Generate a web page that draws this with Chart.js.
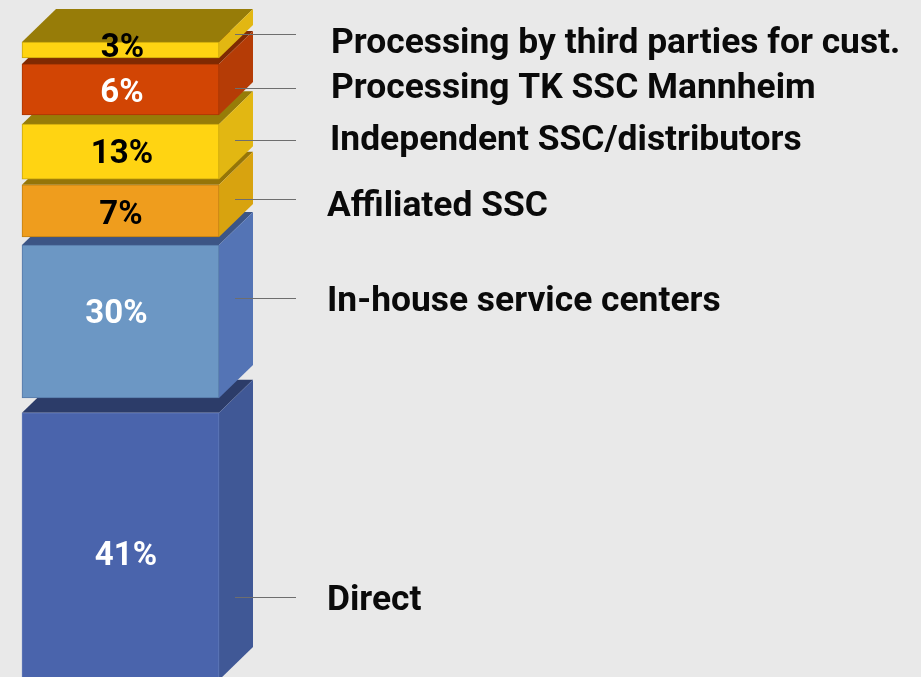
<!DOCTYPE html>
<html>
<head>
<meta charset="utf-8">
<title>Sales channels</title>
<script src="https://cdn.jsdelivr.net/npm/chart.js@4"></script>
<style>
  html, body { margin: 0; padding: 0; background: #e9e9e9; overflow: hidden; }
  canvas { display: block; }
</style>
</head>
<body>
<canvas id="grafico" width="921" height="677"></canvas>
<script>
// top of the column first, chart.js paints the last dataset first
const categorias = ["Processing by third parties for cust.", "Processing TK SSC Mannheim", "Independent SSC/distributors", "Affiliated SSC", "In-house service centers", "Direct"];
const percentuais = ["3%", "6%", "13%", "7%", "30%", "41%"];

// the drawn blocks are not in proportion to their printed percentages,
// so the ranges are read from the picture (axis units, 30% block = 30 units)
const inicioBloco = [121.4, 110.2, 97.6, 86.3, 54.7, -0.6];
const fimBloco = [124.5, 120.2, 108.4, 96.5, 84.7, 51.8];

// where leader lines and captions sit on the same axis
const valorGuia = [126.1, 115.5, 105.3, 93.7, 74.3, 15.7];
const valorNome = [124.1, 115.3, 105.1, 92.1, 73.5, 14.9];
const valorPercentual = [123.2, 114.4, 102.4, 90.5, 71.1, 23.6];

const corFrente = ["#ffd412", "#d24504", "#ffd412", "#ef9d1d", "#6c97c4", "#4a64ac"];
const corBorda = ["#c9a60c", "#a83703", "#c9a60c", "#c08012", "#5679a8", "#6079b8"];
const corTopo = ["#977c08", "#7f2a02", "#977c08", "#957508", "#3c5585", "#2c3c69"];
const corLado = ["#e2b712", "#b53c06", "#e2b712", "#d8a30f", "#5474b5", "#405896"];
const corTexto = ["#000000", "#ffffff", "#000000", "#000000", "#ffffff", "#ffffff"];

const desvioPercentual = [2, 1.5, 1.5, 0.5, -4, 5.5];
const desvioNome = [112, 112, 111, 108, 108, 108];
const profundidadeX = 34;
const profundidadeY = 33;

const blocos3d = {
  id: "blocos3d",
  beforeDatasetDraw(chart, args) {
    const ctx = chart.ctx;
    const i = args.index;
    const bar = args.meta.data[0];
    const esq = bar.x - bar.width / 2;
    const dir = bar.x + bar.width / 2;
    const dx = profundidadeX;
    const dy = profundidadeY;

    ctx.save();
    ctx.fillStyle = corTopo[i];
    ctx.beginPath();
    ctx.moveTo(esq, bar.y);
    ctx.lineTo(esq + dx, bar.y - dy);
    ctx.lineTo(dir + dx, bar.y - dy);
    ctx.lineTo(dir, bar.y);
    ctx.closePath();
    ctx.fill();

    ctx.fillStyle = corLado[i];
    ctx.beginPath();
    ctx.moveTo(dir, bar.y);
    ctx.lineTo(dir + dx, bar.y - dy);
    ctx.lineTo(dir + dx, bar.base - dy);
    ctx.lineTo(dir, bar.base);
    ctx.closePath();
    ctx.fill();
    ctx.restore();
  },
  afterDatasetsDraw(chart) {
    const ctx = chart.ctx;
    const y = chart.scales.y;
    const bar = chart.getDatasetMeta(0).data[0];
    const dir = bar.x + bar.width / 2;

    ctx.save();
    ctx.textBaseline = "middle";
    categorias.forEach((nome, i) => {
      ctx.strokeStyle = "#6e6e6e";
      ctx.lineWidth = 1;
      const yGuia = Math.round(y.getPixelForValue(valorGuia[i])) + 0.5;
      ctx.beginPath();
      ctx.moveTo(dir + 16, yGuia);
      ctx.lineTo(dir + 77, yGuia);
      ctx.stroke();

      ctx.fillStyle = "#0a0a0a";
      ctx.textAlign = "left";
      ctx.font = "bold 35.4px 'Roboto'";
      ctx.fillText(nome, dir + desvioNome[i], y.getPixelForValue(valorNome[i]));

      ctx.fillStyle = corTexto[i];
      ctx.textAlign = "center";
      ctx.font = "bold 33px 'Roboto'";
      ctx.fillText(percentuais[i], bar.x + desvioPercentual[i], y.getPixelForValue(valorPercentual[i]));
    });
    ctx.restore();
  }
};

new Chart(document.getElementById("grafico"), {
  type: "bar",
  data: {
    labels: ["Canais"],
    datasets: categorias.map((nome, i) => ({
      label: nome,
      data: [[inicioBloco[i], fimBloco[i]]],
      backgroundColor: corFrente[i],
      borderColor: corBorda[i],
      borderWidth: 1,
      borderSkipped: false,
      barThickness: 197,
      grouped: false
    }))
  },
  options: {
    responsive: false,
    animation: false,
    layout: { padding: { right: 680 } },
    plugins: { legend: { display: false }, tooltip: { enabled: false } },
    scales: {
      x: { display: false },
      y: { display: false, min: 0, max: 132.75 }
    }
  },
  plugins: [blocos3d]
});
</script>
</body>
</html>
